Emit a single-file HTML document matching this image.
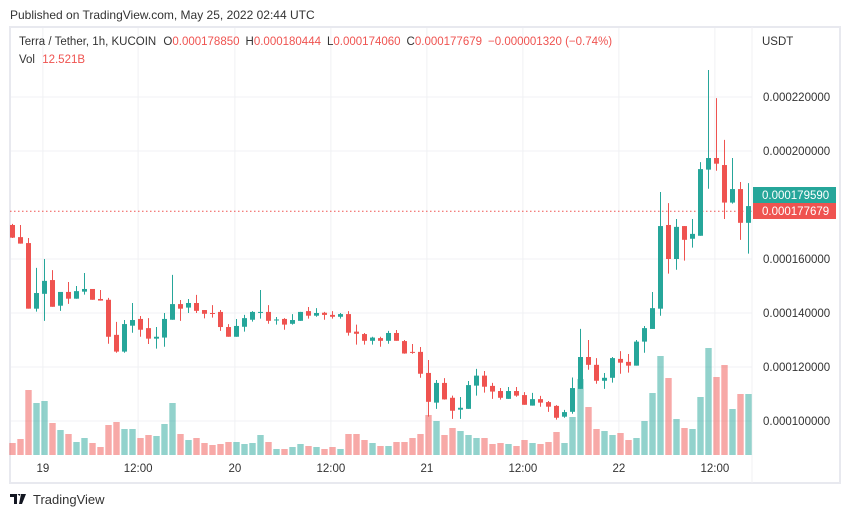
<!DOCTYPE html>
<html><head><meta charset="utf-8"><style>
body{margin:0;background:#fff;width:851px;height:518px;overflow:hidden;font-family:"Liberation Sans",sans-serif;}
svg text{font-family:"Liberation Sans",sans-serif;}
</style></head><body>
<svg id="chart" width="851" height="518" viewBox="0 0 851 518">
<text x="10" y="19" font-size="12" fill="#333">Published on TradingView.com, May 25, 2022 02:44 UTC</text>
<rect x="10" y="27" width="830" height="456" fill="#fff" stroke="#e8e9ef" stroke-width="2"/>
<line x1="752" y1="27" x2="752" y2="483" stroke="#f0f0f3"/>
<g id="grid"></g>
<g id="vols"></g>
<line x1="10" y1="211.3" x2="752" y2="211.3" stroke="#ef5350" stroke-width="1" stroke-dasharray="1.5,2.5"/>
<g id="candles"></g>
<g id="yaxis"></g>
<g id="xaxis"></g>
<text x="762" y="45" font-size="11.5" fill="#333">USDT</text>
<text x="19" y="45" font-size="11.5" fill="#333">Terra / Tether, 1h, KUCOIN <tspan dx="4">O</tspan><tspan fill="#ef5350">0.000178850</tspan><tspan dx="6">H</tspan><tspan fill="#ef5350">0.000180444</tspan><tspan dx="6">L</tspan><tspan fill="#ef5350">0.000174060</tspan><tspan dx="6">C</tspan><tspan fill="#ef5350">0.000177679</tspan><tspan dx="6" fill="#ef5350">−0.000001320 (−0.74%)</tspan></text>
<text x="19" y="63" font-size="11.5" fill="#333">Vol <tspan dx="4" fill="#ef5350">12.521B</tspan></text>
<rect x="753" y="187" width="83" height="16" fill="#26a69a"/>
<text x="762" y="199" font-size="11.5" fill="#fff">0.000179590</text>
<rect x="753" y="203" width="83" height="16" fill="#ef5350"/>
<text x="762" y="215" font-size="11.5" fill="#fff">0.000177679</text>
<g>
<path d="M10 494h7v10h-3v-7h-4z M17.5 494h3l-1 2z M21 494h5l-4 10h-3z" fill="#131722"/>
<text x="33" y="504" font-size="13" fill="#333">TradingView</text>
</g>
</svg>
<script>
const opens=[172.6,168.1,165.9,141.6,147.1,152.2,142.7,147.8,145.3,147.9,148.9,145.2,144.9,131.9,125.7,135.3,137.8,134.4,130.5,130.9,137.5,143.3,142.0,143.7,141.1,140.0,140.4,134.8,131.2,134.9,137.5,140.1,140.4,137.4,137.8,136.0,137.1,140.7,139.0,140.1,139.3,138.6,139.6,133.1,132.2,129.7,130.7,129.7,132.6,129.6,125.6,125.6,117.8,106.8,114.1,108.6,104.2,104.5,113.1,116.8,113.0,111.1,108.2,111.1,109.6,105.7,108.1,107.0,105.6,101.6,103.4,111.9,123.7,120.8,114.9,116.0,123.0,121.9,120.5,129.4,134.1,141.6,172.6,160.0,172.2,167.5,168.6,193.1,197.4,194.8,180.9,185.9,173.4];
const highs=[173.0,172.6,167.8,156.7,160.0,155.9,147.8,151.5,150.0,154.8,148.9,148.5,145.6,136.7,137.4,143.7,138.9,138.1,134.8,140.0,154.1,144.8,145.2,146.7,141.1,142.9,141.1,135.9,137.8,139.3,140.7,148.5,142.9,138.5,138.1,139.6,140.4,142.2,141.8,140.4,140.7,140.0,140.7,135.7,132.6,131.2,131.2,133.4,133.7,130.0,128.5,127.4,122.6,115.2,115.9,109.4,108.9,114.8,119.3,118.5,114.1,112.2,112.6,112.6,110.7,110.4,109.3,107.4,105.9,104.1,116.1,134.1,130.0,123.3,117.8,123.7,125.9,124.8,130.0,135.2,147.8,184.8,180.7,174.8,172.2,174.8,195.9,230.0,219.6,204.1,197.4,188.5,188.1];
const lows=[167.8,165.7,141.6,140.5,137.1,142.3,140.8,143.4,145.3,146.8,144.9,144.6,128.6,125.3,125.3,132.7,131.2,128.5,126.8,127.5,137.5,137.1,140.0,140.0,138.0,138.3,133.4,131.2,131.2,133.1,136.8,137.9,136.0,135.7,133.8,135.7,137.1,137.9,138.6,137.5,137.9,137.9,131.6,128.3,128.3,128.3,127.5,128.6,129.7,124.9,124.9,116.0,101.6,104.5,107.9,100.8,100.8,104.5,109.4,110.5,108.2,107.9,108.2,109.0,106.0,105.7,105.3,103.4,100.5,101.2,102.7,111.9,119.0,113.8,111.9,114.2,117.5,117.9,120.5,125.3,134.1,139.0,154.6,156.0,159.4,164.2,168.6,186.0,192.7,174.8,180.5,167.1,162.0];
const closes=[167.9,165.7,141.6,147.4,151.9,142.3,147.8,145.3,148.1,148.9,144.9,144.6,131.2,125.7,135.9,137.4,133.8,130.5,131.2,137.8,143.3,141.6,143.7,140.8,139.7,139.7,134.8,131.2,135.2,138.1,140.4,140.4,137.1,137.6,135.7,137.4,140.4,139.0,140.0,139.3,138.6,139.6,132.7,132.3,129.7,130.9,129.7,132.6,129.7,125.0,125.3,117.5,107.1,114.1,108.0,103.8,104.9,113.3,116.8,112.7,110.9,108.6,111.1,109.4,106.0,108.1,106.8,105.3,101.2,103.3,112.2,123.7,120.8,114.9,116.0,123.3,121.6,120.5,129.4,134.4,141.8,172.2,160.0,171.9,167.1,169.3,193.3,197.4,195.3,180.9,185.9,173.4,179.6];
const volumes=[12,16,65,52,54,32,25,21,13,17,12,8,30,33,26,26,17,20,19,31,52,21,15,17,12,10,11,13,13,11,12,20,13,6,6,8,11,9,8,6,8,6,21,21,15,12,9,9,13,13,17,21,40,34,20,27,24,20,17,17,11,12,11,9,15,12,11,13,23,12,38,76,48,26,24,20,22,15,17,34,62,99,77,36,27,26,58,107,78,90,46,61,61];
const priceTicks=[220,200,180,160,140,120,100];
const priceTickLabels=["0.000220000","0.000200000","0.000180000","0.000160000","0.000140000","0.000120000","0.000100000"];
const timeTickIdx=[3.8,15.7,27.8,39.8,51.8,63.8,75.8,87.8];
const timeTickLabels=["19","12:00","20","12:00","21","12:00","22","12:00"];

const NS="http://www.w3.org/2000/svg";
function xOf(i){return 12.5+8*i;}
function yOf(p){return 97+(220-p)*2.7;}
function vyOf(v){return 455-v;}
function mk(tag,attrs,parent){const e=document.createElementNS(NS,tag);for(const k in attrs)e.setAttribute(k,attrs[k]);parent.appendChild(e);return e;}
const grid=document.getElementById('grid'),vols=document.getElementById('vols'),cg=document.getElementById('candles'),ya=document.getElementById('yaxis'),xa=document.getElementById('xaxis');
priceTicks.forEach((p,k)=>{
  const y=yOf(p);
  if(p!==180){const l=mk('line',{x1:11,x2:752,y1:y,y2:y,stroke:'#f0f1f4'},grid);
  
  
  const t=mk('text',{x:763,y:y+4,'font-size':11.5,fill:'#333'},ya);t.textContent=priceTickLabels[k];
  
  }
});
timeTickIdx.forEach((ix,k)=>{
  const x=xOf(ix);
  const l=mk('line',{x1:x,x2:x,y1:28,y2:455,stroke:'#f0f1f4'},grid);
  
  
  const t=mk('text',{x:x,y:472,'font-size':11.5,fill:'#333','text-anchor':'middle'},xa);t.textContent=timeTickLabels[k];
  
  
});
for(let i=0;i<opens.length;i++){
  const up=closes[i]>=opens[i];
  const col=up?'#26a69a':'#ef5350';
  const x=xOf(i);
  const vb=mk('rect',{x:x-3.2,y:vyOf(volumes[i]),width:6.4,height:volumes[i],fill:up?'rgba(38,166,154,0.5)':'rgba(239,83,80,0.5)'},vols);
  
  
  const w=mk('line',{x1:x,x2:x,y1:yOf(highs[i]),y2:yOf(lows[i]),stroke:col,'stroke-width':1},cg);
  
  
  const top=yOf(Math.max(opens[i],closes[i])),bot=yOf(Math.min(opens[i],closes[i]));
  const b=mk('rect',{x:x-2.5,y:top,width:5,height:Math.max(1,bot-top),fill:col},cg);
  
  
}
</script>
</body></html>
